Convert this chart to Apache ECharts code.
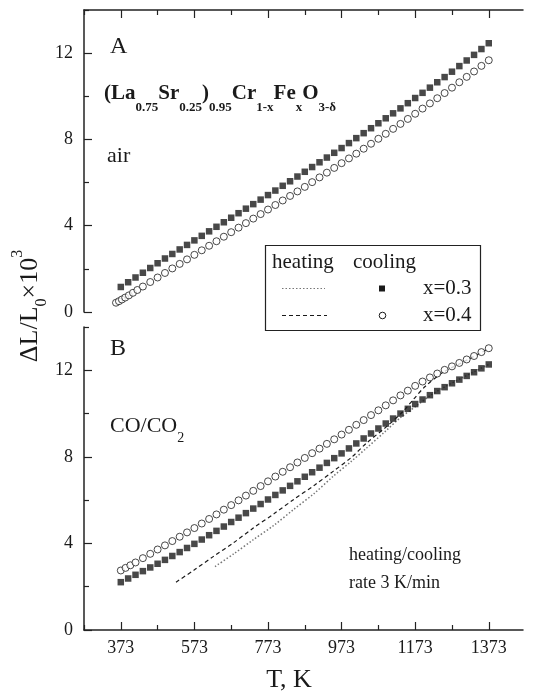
<!DOCTYPE html>
<html>
<head>
<meta charset="utf-8">
<script src="https://cdn.jsdelivr.net/npm/echarts@6/dist/echarts.min.js"></script>
<style>html,body{margin:0;padding:0;background:#fff}#c{width:550px;height:697px}</style>
</head>
<body>
<div id="c"></div>
<script>
// ---------- data ----------
const sqT = [373,393,413,433,453,473,493,513,533,553,573,593,613,633,653,673,693,713,733,753,773,793,813,833,853,873,893,913,933,953,973,993,1013,1033,1053,1073,1093,1113,1133,1153,1173,1193,1213,1233,1253,1273,1293,1313,1333,1353,1373];
// panel A (air)
const airX03 = [1.16,1.38,1.60,1.82,2.04,2.26,2.48,2.69,2.90,3.11,3.32,3.53,3.74,3.95,4.16,4.37,4.58,4.79,5.00,5.21,5.42,5.63,5.85,6.06,6.28,6.50,6.72,6.94,7.16,7.38,7.60,7.83,8.06,8.29,8.52,8.75,8.98,9.21,9.44,9.68,9.92,10.16,10.40,10.65,10.89,11.14,11.40,11.66,11.92,12.19,12.46];
const airX04T = [360,368,376,385,395,406,418,433,453,473,493,513,533,553,573,593,613,633,653,673,693,713,733,753,773,793,813,833,853,873,893,913,933,953,973,993,1013,1033,1053,1073,1093,1113,1133,1153,1173,1193,1213,1233,1253,1273,1293,1313,1333,1353,1373];
const airX04 = [0.43,0.50,0.58,0.67,0.77,0.89,1.02,1.18,1.39,1.60,1.81,2.02,2.23,2.44,2.65,2.86,3.07,3.28,3.49,3.70,3.91,4.12,4.33,4.54,4.75,4.96,5.17,5.38,5.59,5.80,6.02,6.24,6.46,6.68,6.90,7.12,7.34,7.57,7.80,8.03,8.26,8.49,8.72,8.95,9.19,9.43,9.67,9.91,10.15,10.40,10.65,10.90,11.15,11.41,11.67];
// panel B (CO/CO2), cooling
const coX03 = [2.21,2.38,2.55,2.72,2.89,3.06,3.24,3.42,3.60,3.79,3.98,4.18,4.38,4.58,4.78,4.99,5.19,5.40,5.61,5.82,6.03,6.24,6.45,6.66,6.87,7.08,7.29,7.50,7.72,7.94,8.16,8.39,8.62,8.85,9.08,9.31,9.54,9.77,10.00,10.22,10.44,10.65,10.85,11.04,11.22,11.40,11.57,11.74,11.91,12.09,12.27];
const coX04T = [373,386,399,413,433,453,473,493,513,533,553,573,593,613,633,653,673,693,713,733,753,773,793,813,833,853,873,893,913,933,953,973,993,1013,1033,1053,1073,1093,1113,1133,1153,1173,1193,1213,1233,1253,1273,1293,1313,1333,1353,1373];
const coX04 = [2.75,2.87,2.99,3.12,3.32,3.52,3.72,3.91,4.11,4.31,4.51,4.71,4.92,5.13,5.34,5.56,5.77,5.99,6.21,6.43,6.65,6.87,7.09,7.31,7.52,7.74,7.95,8.17,8.38,8.60,8.81,9.03,9.25,9.48,9.70,9.93,10.15,10.38,10.61,10.84,11.06,11.28,11.48,11.67,11.85,12.02,12.18,12.34,12.50,12.66,12.84,13.02];
// panel B, heating
const heatX03T = [629,680,733,790,842,900,950,1000,1041,1090,1132,1180,1213,1250,1300,1373];
const heatX03 = [2.93,3.52,4.17,4.85,5.56,6.33,7.10,7.80,8.41,9.15,9.80,10.40,10.82,11.20,11.65,12.27];
const heatX04T = [523,573,624,680,733,790,842,900,950,1000,1041,1096,1140,1168,1200,1250,1300,1373];
const heatX04 = [2.21,2.78,3.39,4.04,4.71,5.38,6.02,6.70,7.33,7.98,8.64,9.41,10.10,10.65,11.25,11.92,12.35,13.00];
// ticks
const xMajorTicks = [373,573,773,973,1173,1373];
const xMinorTicks = [273,473,673,873,1073,1273];
const yMajorTicks = [0,4,8,12];
const yMinorTicks = [2,6,10,14];

// ---------- chart ----------
const zip = (xs, ys) => xs.map((x, i) => [x, ys[i]]);
const FONT = '"Liberation Serif", "Times New Roman", serif';
const INK = '#1a1a1a';
const lineStyle = {color: '#222', width: 1.5};
const X_MIN = 273, X_MAX = 1466;

function xAx(grid, pos, major) {
  return {
    type: 'value', gridIndex: grid, position: pos, min: X_MIN, max: X_MAX,
    axisLine: {show: major, onZero: false, lineStyle},
    axisTick: {show: true, inside: true, length: major ? 8 : 5, customValues: major ? xMajorTicks : xMinorTicks, lineStyle: {color: '#222', width: 1.2}},
    axisLabel: (major && pos === 'bottom') ? {show: true, customValues: xMajorTicks, formatter: v => String(v), fontFamily: FONT, fontSize: 18, color: INK, margin: 9} : {show: false},
    splitLine: {show: false}
  };
}
function yAx(grid, major) {
  return {
    type: 'value', gridIndex: grid, position: 'left', min: 0, max: 14,
    axisLine: {show: major, onZero: false, lineStyle},
    axisTick: {show: true, inside: true, length: major ? 8 : 5, customValues: major ? yMajorTicks : yMinorTicks, lineStyle: {color: '#222', width: 1.2}},
    axisLabel: major ? {show: true, customValues: yMajorTicks, formatter: v => String(v), fontFamily: FONT, fontSize: 18, color: INK, margin: 11} : {show: false},
    splitLine: {show: false}
  };
}
const sqSym = {type: 'scatter', symbol: 'rect', symbolSize: 6.5, itemStyle: {color: INK}, z: 3};
const ciSym = {type: 'scatter', symbol: 'circle', symbolSize: 7, itemStyle: {color: '#fff', borderColor: INK, borderWidth: 1}, z: 3};

const main = {fontFamily: FONT, fontSize: 21, fontWeight: 'bold', lineHeight: 31, verticalAlign: 'top', fill: INK};
const sub = {fontFamily: FONT, fontSize: 13, fontWeight: 'bold', lineHeight: 31, verticalAlign: 'bottom', fill: INK};

const chart = echarts.init(document.getElementById('c'), null, {renderer: 'canvas'});
chart.setOption({
  animation: false,
  backgroundColor: '#fff',
  grid: [
    {left: 84, right: 27, top: 10, height: 302},
    {left: 84, right: 27, top: 327, height: 303}
  ],
  xAxis: [xAx(0, 'top', true), xAx(0, 'top', false), xAx(1, 'bottom', true), xAx(1, 'bottom', false)],
  yAxis: [yAx(0, true), yAx(0, false), yAx(1, true), yAx(1, false)],
  series: [
    Object.assign({}, sqSym, {xAxisIndex: 0, yAxisIndex: 0, data: zip(sqT, airX03)}),
    Object.assign({}, ciSym, {xAxisIndex: 0, yAxisIndex: 0, data: zip(airX04T, airX04)}),
    {type: 'line', xAxisIndex: 2, yAxisIndex: 2, data: zip(heatX03T, heatX03), smooth: 0.3, showSymbol: false, z: 2,
     lineStyle: {color: '#777', width: 1.5, type: [1.5, 2]}},
    {type: 'line', xAxisIndex: 2, yAxisIndex: 2, data: zip(heatX04T, heatX04), smooth: 0.3, showSymbol: false, z: 2,
     lineStyle: {color: INK, width: 1.2, type: [4, 3]}},
    Object.assign({}, sqSym, {xAxisIndex: 2, yAxisIndex: 2, data: zip(sqT, coX03)}),
    Object.assign({}, ciSym, {xAxisIndex: 2, yAxisIndex: 2, data: zip(coX04T, coX04)})
  ],
  graphic: [
    {type: 'text', x: 110, y: 47, style: {text: 'A', fontFamily: FONT, fontSize: 24, fill: INK, align: 'left', verticalAlign: 'middle'}},
    {type: 'text', x: 104, y: 83, style: {
      text: '{m|(La}{s|0.75}{m|Sr}{s|0.25}{m|)}{s|0.95}{m|Cr}{s|1-x}{m|Fe}{s|x}{m|O}{s|3-δ}',
      align: 'left', verticalAlign: 'top', rich: {m: main, s: sub}}},
    {type: 'text', x: 107, y: 156, style: {text: 'air', fontFamily: FONT, fontSize: 22, fill: INK, align: 'left', verticalAlign: 'middle'}},
    {type: 'text', x: 110, y: 349, style: {text: 'B', fontFamily: FONT, fontSize: 24, fill: INK, align: 'left', verticalAlign: 'middle'}},
    {type: 'text', x: 110, y: 415, style: {
      text: '{m|CO/CO}{s|2}', align: 'left', verticalAlign: 'top',
      rich: {m: {fontFamily: FONT, fontSize: 22, lineHeight: 30, verticalAlign: 'top', fill: INK},
             s: {fontFamily: FONT, fontSize: 14, lineHeight: 30, verticalAlign: 'bottom', fill: INK}}}},
    {type: 'text', x: 349, y: 555, style: {text: 'heating/cooling', fontFamily: FONT, fontSize: 18, fill: INK, align: 'left', verticalAlign: 'middle'}},
    {type: 'text', x: 349, y: 583, style: {text: 'rate 3 K/min', fontFamily: FONT, fontSize: 18, fill: INK, align: 'left', verticalAlign: 'middle'}},
    {type: 'text', x: 289, y: 680, style: {text: 'T, K', fontFamily: FONT, fontSize: 26, fill: INK, align: 'center', verticalAlign: 'middle'}},
    {type: 'text', x: 30, y: 306, rotation: Math.PI / 2, style: {
      text: '{m|ΔL/L}{b|0}{m|×10}{t|3}', align: 'center', verticalAlign: 'middle',
      rich: {m: {fontFamily: FONT, fontSize: 26, lineHeight: 40, verticalAlign: 'middle', fill: INK},
             b: {fontFamily: FONT, fontSize: 16, lineHeight: 40, verticalAlign: 'bottom', fill: INK},
             t: {fontFamily: FONT, fontSize: 16, lineHeight: 40, verticalAlign: 'top', fill: INK}}}},
    // legend box
    {type: 'group', z: 100, children: [
      {type: 'rect', shape: {x: 265.5, y: 245.5, width: 215, height: 85}, style: {fill: '#fff', stroke: '#222', lineWidth: 1.2}},
      {type: 'text', x: 272, y: 262, style: {text: 'heating', fontFamily: FONT, fontSize: 21, fill: INK, align: 'left', verticalAlign: 'middle'}},
      {type: 'text', x: 353, y: 262, style: {text: 'cooling', fontFamily: FONT, fontSize: 21, fill: INK, align: 'left', verticalAlign: 'middle'}},
      {type: 'line', shape: {x1: 282, y1: 288.5, x2: 325, y2: 288.5}, style: {stroke: '#777', lineWidth: 1.2, lineDash: [1.5, 2]}},
      {type: 'rect', shape: {x: 379, y: 285.5, width: 6, height: 6}, style: {fill: INK}},
      {type: 'text', x: 423, y: 288, style: {text: 'x=0.3', fontFamily: FONT, fontSize: 21, fill: INK, align: 'left', verticalAlign: 'middle'}},
      {type: 'line', shape: {x1: 282, y1: 315.5, x2: 327, y2: 315.5}, style: {stroke: INK, lineWidth: 1.2, lineDash: [4, 3]}},
      {type: 'circle', shape: {cx: 382.5, cy: 315.5, r: 3.3}, style: {fill: '#fff', stroke: INK, lineWidth: 1}},
      {type: 'text', x: 423, y: 315, style: {text: 'x=0.4', fontFamily: FONT, fontSize: 21, fill: INK, align: 'left', verticalAlign: 'middle'}}
    ]}
  ]
});
</script>
</body>
</html>
